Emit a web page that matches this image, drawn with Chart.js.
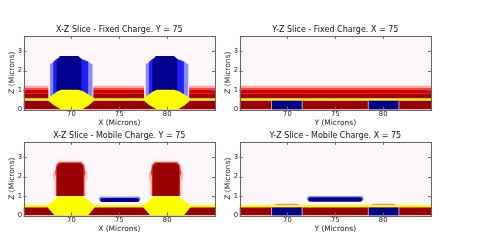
<!DOCTYPE html>
<html>
<head>
<meta charset="utf-8">
<script src="https://cdn.jsdelivr.net/npm/chart.js@4.4.1/dist/chart.umd.min.js"></script>
<style>
  html, body { margin: 0; padding: 0; background: #fff; }
  body { width: 479px; height: 241px; position: relative; overflow: hidden; }
  canvas { position: absolute; }
</style>
</head>
<body>
<canvas id="xzFixed" width="217" height="103" style="left:0;top:25px"></canvas>
<canvas id="yzFixed" width="217" height="103" style="left:216px;top:25px"></canvas>
<canvas id="xzMobile" width="217" height="103" style="left:0;top:131px"></canvas>
<canvas id="yzMobile" width="217" height="103" style="left:216px;top:131px"></canvas>
<script>
// axes
const xRange = [65, 85];
const zRange = [0, 3.8];
const xTicks = [70, 75, 80];
const zTicks = [0, 1, 2, 3];
const gateCenters = [70, 80];

// fixed charge: stacked layers above the oxide line (z bottom, z top)
const fixedLayers = [[0.58, 0.84], [0.84, 1.01], [1.01, 1.13], [1.13, 1.23]];
const fixedLayerSpans = [[65, 67.6], [72.3, 77.6], [82.3, 85]];
const oxideFixed = [0.46, 0.58];
const oxideMobile = [0.42, 0.54];

// Y-Z cut: blue cells sitting in the substrate
const substrateCells = [[68.4, 71.5], [78.5, 81.6]];

// gate outlines, x given as offset from the gate centre
const gateOuter = [[-2.24, 0.58], [-2.24, 2.34], [-1.9, 2.42], [-1.55, 2.58], [1.06, 2.58], [1.75, 2.48], [2.21, 2.32], [2.21, 0.58]];
const gateMid = [[-1.9, 0.58], [-1.9, 2.45], [-1.55, 2.6], [-1.2, 2.7], [0.71, 2.7], [1.06, 2.6], [1.75, 2.48], [1.75, 0.58]];
const gateCore = [[-1.55, 0.58], [-1.55, 2.48], [-1.2, 2.76], [0.71, 2.76], [1.06, 2.6], [1.06, 0.58]];
const gateOxideFixed = [[-2.45, 0.46], [-2.45, 0.58], [-2.0, 0.74], [-1.5, 0.93], [-1.05, 1.02], [0.75, 1.02],
  [1.3, 0.93], [1.9, 0.74], [2.4, 0.58], [2.4, 0.46], [1.8, 0.2], [1.1, 0], [-1.05, 0], [-1.8, 0.2]];
const gateOxideMobile = [[-2.5, 0.42], [-2.45, 0.54], [-1.9, 0.76], [-1.35, 1.0], [1.1, 1.0], [1.8, 0.76],
  [2.4, 0.54], [2.45, 0.42], [1.75, 0], [-1.75, 0]];

// mobile charge blob over each gate
const holeHalo = [[-1.75, 1.0], [-1.75, 1.75], [-1.92, 1.85], [-1.92, 2.2], [-1.7, 2.35], [-1.65, 2.62], [-1.35, 2.8],
  [1.1, 2.8], [1.45, 2.62], [1.5, 2.35], [1.68, 2.2], [1.68, 1.85], [1.5, 1.75], [1.5, 1.0]];
const holeEdge = [[-1.6, 1.0], [-1.6, 2.0], [-1.7, 2.2], [-1.55, 2.6], [-1.25, 2.74], [1.0, 2.74], [1.3, 2.6],
  [1.45, 2.2], [1.35, 2.0], [1.35, 1.0]];
const holeCore = [[-1.5, 1.0], [-1.5, 2.5], [-1.3, 2.66], [-1.0, 2.7], [0.85, 2.7], [1.1, 2.64], [1.25, 2.5], [1.25, 1.0]];
const cellHump = [[-1.35, 0.54], [-1.05, 0.61], [1.05, 0.61], [1.35, 0.54]];

// electron channel between the gates
const channelXZ = [[73.2, 0.8], [76.9, 0.8]];
const channelXZHalo = [[73.1, 0.86], [77.0, 0.86]];
const channelYZ = [[72.4, 0.83], [77.6, 0.83]];
const channelYZHalo = [[72.3, 0.88], [77.7, 0.88]];

const plotBg = '#fef7f9';
const navy = '#00008c';
const darkRed = '#990000';
const yellow = '#ffff00';
const layerColors = ['#a80000', '#d20000', '#ee4848', '#f8a8a8'];
const font = 'DejaVu Sans';

function shape(pts, color, dx = 0) {
  return {
    data: pts.map(p => ({x: p[0] + dx, y: p[1]})),
    fill: 'shape', backgroundColor: color,
    borderColor: 'rgba(0,0,0,0)', borderWidth: 0,
    pointRadius: 0, tension: 0, showLine: true
  };
}

function rect(x0, x1, z0, z1, color) {
  return shape([[x0, z0], [x1, z0], [x1, z1], [x0, z1]], color);
}

function stroke(pts, color, width) {
  return {
    data: pts.map(p => ({x: p[0], y: p[1]})),
    fill: false, borderColor: color, backgroundColor: color, borderWidth: width,
    borderCapStyle: 'round', pointRadius: 0, tension: 0, showLine: true
  };
}

const framePlugin = {
  id: 'frame',
  beforeDatasetsDraw(chart) {
    const {ctx, chartArea: a} = chart;
    ctx.save();
    ctx.fillStyle = plotBg;
    ctx.fillRect(a.left, a.top, a.width, a.height);
    ctx.restore();
  },
  afterDatasetsDraw(chart) {
    const {ctx, chartArea: a, scales: {x, y}} = chart;
    ctx.save();
    ctx.strokeStyle = '#666';
    ctx.lineWidth = 1;
    ctx.beginPath();
    x.ticks.forEach(t => {
      const px = Math.round(x.getPixelForValue(t.value)) + 0.5;
      ctx.moveTo(px, a.bottom); ctx.lineTo(px, a.bottom - 3);
      ctx.moveTo(px, a.top); ctx.lineTo(px, a.top + 3);
    });
    y.ticks.forEach(t => {
      const py = Math.round(y.getPixelForValue(t.value)) + 0.5;
      ctx.moveTo(a.left, py); ctx.lineTo(a.left + 3, py);
      ctx.moveTo(a.right, py); ctx.lineTo(a.right - 3, py);
    });
    ctx.stroke();
    ctx.strokeRect(Math.round(a.left) + 0.5, Math.round(a.top) + 0.5,
      Math.round(a.right) - Math.round(a.left), Math.round(a.bottom) - Math.round(a.top));
    ctx.restore();
  }
};

function makePanel(id, title, xTitle, shapes) {
  shapes.forEach((s, i) => { s.order = shapes.length - i; });
  return new Chart(document.getElementById(id), {
    type: 'line',
    data: {datasets: shapes},
    options: {
      responsive: false,
      animation: false,
      events: [],
      layout: {padding: {left: 0, right: 2, top: 0, bottom: 0}},
      plugins: {
        legend: {display: false},
        tooltip: {enabled: false},
        title: {
          display: true, text: title, fullSize: false,
          color: '#111', font: {family: font, size: 8, weight: 'normal'},
          padding: {top: 0, bottom: 1.2}
        }
      },
      scales: {
        x: {
          type: 'linear', min: xRange[0], max: xRange[1],
          afterBuildTicks: s => { s.ticks = xTicks.map(v => ({value: v})); },
          afterFit: s => { s.height = 18.5; },
          grid: {display: false, drawTicks: false}, border: {display: false},
          ticks: {color: '#222', padding: 1, font: {family: font, size: 6.8}},
          title: {display: true, text: xTitle, color: '#222', padding: {top: 0, bottom: 0},
            font: {family: font, size: 7.5}}
        },
        y: {
          type: 'linear', min: zRange[0], max: zRange[1],
          afterBuildTicks: s => { s.ticks = zTicks.map(v => ({value: v})); },
          afterFit: s => { s.width = 23.5; },
          grid: {display: false, drawTicks: false}, border: {display: false},
          ticks: {color: '#222', padding: 1.5, font: {family: font, size: 6.8}},
          title: {display: true, text: 'Z (Microns)', color: '#222', padding: {top: 8, bottom: 0},
            font: {family: font, size: 7.5}}
        }
      }
    },
    plugins: [framePlugin]
  });
}

// X-Z fixed charge
const xzFixed = [rect(xRange[0], xRange[1], 0, oxideFixed[0], darkRed),
  rect(xRange[0], xRange[1], oxideFixed[0], oxideFixed[1], yellow)];
fixedLayerSpans.forEach(sp => fixedLayers.forEach((l, i) => xzFixed.push(rect(sp[0], sp[1], l[0], l[1], layerColors[i]))));
gateCenters.forEach(c => {
  xzFixed.push(shape(gateOuter, '#8a8aff', c), shape(gateMid, '#2020ff', c),
    shape(gateCore, navy, c), shape(gateOxideFixed, yellow, c));
});

// Y-Z fixed charge
const yzFixed = [rect(xRange[0], xRange[1], 0, oxideFixed[0], darkRed)];
substrateCells.forEach(c => yzFixed.push(rect(c[0] - 0.1, c[1] + 0.1, 0, oxideFixed[0], '#c9a0e0'),
  rect(c[0], c[1], 0, oxideFixed[0], navy)));
yzFixed.push(rect(xRange[0], xRange[1], oxideFixed[0], oxideFixed[1], yellow));
fixedLayers.forEach((l, i) => yzFixed.push(rect(xRange[0], xRange[1], l[0], l[1], layerColors[i])));

// X-Z mobile charge
const xzMobile = [rect(xRange[0], xRange[1], 0, oxideMobile[0], darkRed),
  rect(xRange[0], xRange[1], oxideMobile[0], oxideMobile[1], yellow)];
gateCenters.forEach(c => {
  xzMobile.push(shape(gateOxideMobile, yellow, c), shape(holeHalo, 'rgba(255,150,150,0.6)', c),
    shape(holeEdge, '#e02a2a', c), shape(holeCore, darkRed, c));
});
xzMobile.push(stroke(channelXZHalo, 'rgba(110,110,255,0.7)', 4.5), stroke(channelXZ, navy, 4));

// Y-Z mobile charge
const yzMobile = [rect(xRange[0], xRange[1], 0, oxideMobile[0], darkRed)];
substrateCells.forEach(c => yzMobile.push(rect(c[0] - 0.1, c[1] + 0.1, 0, oxideMobile[0], '#c9a0e0'),
  rect(c[0], c[1], 0, oxideMobile[0], navy)));
yzMobile.push(rect(xRange[0], xRange[1], oxideMobile[0], oxideMobile[1], yellow));
substrateCells.forEach(c => yzMobile.push(shape(cellHump, '#f08a80', (c[0] + c[1]) / 2)));
yzMobile.push(stroke(channelYZHalo, 'rgba(110,110,255,0.7)', 5), stroke(channelYZ, navy, 4.5));

makePanel('xzFixed', 'X-Z Slice - Fixed Charge. Y = 75', 'X (Microns)', xzFixed);
makePanel('yzFixed', 'Y-Z Slice - Fixed Charge. X = 75', 'Y (Microns)', yzFixed);
makePanel('xzMobile', 'X-Z Slice - Mobile Charge. Y = 75', 'X (Microns)', xzMobile);
makePanel('yzMobile', 'Y-Z Slice - Mobile Charge. X = 75', 'Y (Microns)', yzMobile);
</script>
</body>
</html>
